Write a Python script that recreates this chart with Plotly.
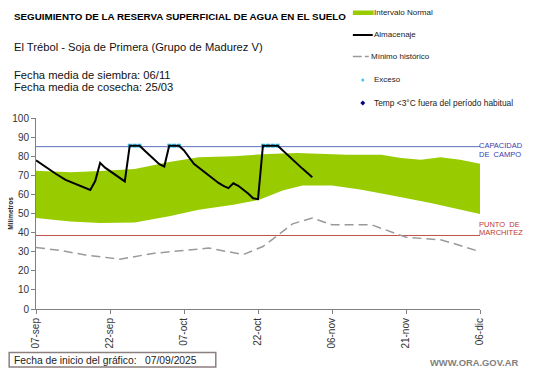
import plotly.graph_objects as go

# ---------------- data ----------------
tick_dates = ["2025-09-07", "2025-09-22", "2025-10-07", "2025-10-22", "2025-11-06", "2025-11-21", "2025-12-06"]
tick_labels = ["07-sep", "22-sep", "07-oct", "22-oct", "06-nov", "21-nov", "06-dic"]

alm_dates = ["2025-09-07", "2025-09-09", "2025-09-11", "2025-09-13", "2025-09-15", "2025-09-17", "2025-09-18",
             "2025-09-19", "2025-09-20", "2025-09-21", "2025-09-23", "2025-09-25", "2025-09-26", "2025-09-28",
             "2025-09-29", "2025-10-01", "2025-10-02", "2025-10-03", "2025-10-04", "2025-10-06", "2025-10-07",
             "2025-10-09", "2025-10-10", "2025-10-11", "2025-10-13", "2025-10-14", "2025-10-15", "2025-10-16",
             "2025-10-17", "2025-10-18", "2025-10-20", "2025-10-21", "2025-10-22", "2025-10-23", "2025-10-26",
             "2025-10-27", "2025-10-29", "2025-10-31", "2025-11-02"]
alm_values = [77.8, 74.2, 70.8, 67.6, 65.4, 63.0, 62.3,
              67.0, 76.5, 74.0, 70.2, 66.8, 85.5, 85.5,
              83.0, 78.0, 75.8, 74.6, 85.5, 85.5, 83.0,
              76.0, 74.0, 72.3, 68.0, 66.0, 64.5, 63.3,
              65.8, 64.5, 60.5, 58.0, 57.5, 85.5, 85.5,
              83.0, 78.5, 73.5, 69.0]

exc_dates = ["2025-09-26", "2025-09-27", "2025-09-28", "2025-10-04", "2025-10-05", "2025-10-06",
             "2025-10-23", "2025-10-24", "2025-10-25", "2025-10-26"]
exc_values = [85.5, 85.5, 85.5, 85.5, 85.5, 85.5, 85.5, 85.5, 85.5, 85.5]

up_dates = ["2025-09-07", "2025-09-14", "2025-09-20", "2025-09-27", "2025-10-04", "2025-10-10", "2025-10-17",
            "2025-10-24", "2025-10-30", "2025-11-02", "2025-11-09", "2025-11-16", "2025-11-20", "2025-11-24",
            "2025-11-28", "2025-12-02", "2025-12-06"]
up_values = [72.4, 71.6, 72.3, 73.3, 77.0, 79.4, 80.0,
             81.2, 81.7, 81.4, 80.8, 80.8, 79.1, 78.2,
             79.4, 78.2, 76.0]

low_dates = ["2025-09-07", "2025-09-14", "2025-09-20", "2025-09-27", "2025-10-04", "2025-10-10", "2025-10-17",
             "2025-10-22", "2025-10-27", "2025-10-31", "2025-11-06", "2025-11-12", "2025-11-19", "2025-11-26",
             "2025-12-06"]
low_values = [47.6, 45.8, 45.0, 45.3, 48.5, 52.0, 54.6,
              57.0, 62.0, 64.6, 64.6, 62.5, 59.0, 55.5,
              49.7]

min_dates = ["2025-09-07", "2025-09-12", "2025-09-17", "2025-09-24", "2025-10-01", "2025-10-06", "2025-10-12",
             "2025-10-19", "2025-10-23", "2025-10-25", "2025-10-29", "2025-11-02", "2025-11-06", "2025-11-14",
             "2025-11-18", "2025-11-21", "2025-11-28", "2025-11-30", "2025-12-06"]
min_values = [32.2, 30.6, 28.3, 26.1, 29.2, 30.6, 31.9,
              28.5, 32.7, 36.6, 44.6, 47.6, 44.1, 44.1,
              40.6, 37.6, 36.2, 34.8, 30.0]

capacidad = 85
marchitez = 38.5

# ---------------- layout helpers (pixel -> paper) ----------------
L, R, T, B = 33, 480, 118, 309
def px(x):
    return (x - L) / (R - L)
def py(y):
    return (B - y) / (B - T)

GREEN = "#99CC00"
CYAN = "#3CC8F0"
FONT = "Liberation Sans, Arial, sans-serif"

fig = go.Figure()

fig.add_trace(go.Scatter(x=low_dates, y=low_values, mode="lines", line=dict(width=0, color=GREEN),
                         showlegend=False, hoverinfo="skip"))
fig.add_trace(go.Scatter(x=up_dates, y=up_values, mode="lines", line=dict(width=0, color=GREEN),
                         fill="tonexty", fillcolor=GREEN, name="Intervalo Normal", showlegend=False))
fig.add_trace(go.Scatter(x=min_dates, y=min_values, mode="lines",
                         line=dict(color="#9A9A9A", width=1.5, dash="9px,5px"),
                         name="Mínimo histórico", showlegend=False))
fig.add_trace(go.Scatter(x=exc_dates, y=exc_values, mode="markers",
                         marker=dict(symbol="square", size=4, color=CYAN),
                         name="Exceso", showlegend=False))
fig.add_trace(go.Scatter(x=alm_dates, y=alm_values, mode="lines",
                         line=dict(color="black", width=2),
                         name="Almacenaje", showlegend=False))

shapes = [
    dict(type="line", xref="paper", yref="y", x0=0, x1=1, y0=capacidad, y1=capacidad,
         line=dict(color="#5A6FC0", width=1), layer="below"),
    dict(type="line", xref="paper", yref="y", x0=0, x1=1, y0=marchitez, y1=marchitez,
         line=dict(color="#C0504D", width=1), layer="below"),
    # legend
    dict(type="rect", xref="paper", yref="paper", x0=px(352), x1=px(373), y0=py(15), y1=py(10.5),
         fillcolor=GREEN, line=dict(width=0)),
    dict(type="line", xref="paper", yref="paper", x0=px(352), x1=px(372), y0=py(35), y1=py(35),
         line=dict(color="black", width=2)),
    dict(type="line", xref="paper", yref="paper", x0=px(352), x1=px(361), y0=py(56.5), y1=py(56.5),
         line=dict(color="#9A9A9A", width=1.5)),
    dict(type="line", xref="paper", yref="paper", x0=px(364), x1=px(368), y0=py(56.5), y1=py(56.5),
         line=dict(color="#9A9A9A", width=1.5)),
    dict(type="circle", xref="paper", yref="paper", x0=px(360.5), x1=px(363.5), y0=py(81.5), y1=py(78.5),
         fillcolor=CYAN, line=dict(width=0)),
    dict(type="path", xref="paper", yref="paper",
         path=f"M {px(359.5)},{py(103)} L {px(362)},{py(100.5)} L {px(364.5)},{py(103)} L {px(362)},{py(105.5)} Z",
         fillcolor="#000080", line=dict(width=0)),
    # footer box
    dict(type="rect", xref="paper", yref="paper", x0=px(6), x1=px(214), y0=py(367), y1=py(352.5),
         line=dict(color="#8C7F7F", width=1.5), fillcolor="rgba(0,0,0,0)"),
]

PAD = 3  # plotly annotation inner text padding

def ann(x, y, text, size, color="black", bold=False, xanchor="left", yanchor="middle", angle=0, family=FONT):
    if bold:
        text = f"<b>{text}</b>"
    if xanchor == "left":
        x -= PAD
    elif xanchor == "right":
        x += PAD
    return dict(xref="paper", yref="paper", x=px(x), y=py(y), text=text, showarrow=False,
                xanchor=xanchor, yanchor=yanchor, textangle=angle,
                font=dict(size=size, color=color, family=family), borderpad=0)

annotations = [
    ann(13, 16, "SEGUIMIENTO DE LA RESERVA SUPERFICIAL DE AGUA EN EL SUELO", 9.8, bold=True),
    ann(13, 47, "El Trébol - Soja de Primera (Grupo de Madurez V)", 11.2, color="#111111"),
    ann(13, 74.5, "Fecha media de siembra: 06/11", 11.2, color="#111111"),
    ann(13, 86.7, "Fecha media de cosecha: 25/03", 11.2, color="#111111"),
    ann(375, 12.5, "Intervalo Normal", 8, color="#222222"),
    ann(375, 34.5, "Almacenaje", 8, color="#222222"),
    ann(372, 56.5, "Mínimo histórico", 8, color="#222222"),
    ann(375, 80, "Exceso", 8, color="#222222"),
    ann(375, 103, "Temp &lt;3°C fuera del período habitual", 8.4, color="#222222"),
    ann(481, 145, "CAPACIDAD", 7.5, color="#3A3AB0"),
    ann(481, 154, "DE  CAMPO", 7.5, color="#3A3AB0"),
    ann(481, 224.3, "PUNTO  DE", 7.5, color="#C0392B"),
    ann(481, 232.7, "MARCHITEZ", 7.5, color="#C0392B"),
    ann(7, 213.5, "Milímetros", 6.5, color="#222222", bold=True, xanchor="center", angle=-90),
    ann(12.5, 360.5, "Fecha de inicio del gráfico:", 10.3, color="#222222"),
    ann(145, 360.5, "07/09/2025", 10.3, color="#222222"),
    ann(516, 362, "WWW.ORA.GOV.AR", 9.4, color="#7F7F7F", bold=True, xanchor="right"),
]

fig.update_layout(
    width=541, height=368,
    margin=dict(l=L, r=541 - R, t=T, b=368 - B, pad=0),
    paper_bgcolor="white", plot_bgcolor="white",
    showlegend=False,
    shapes=shapes, annotations=annotations,
    font=dict(family=FONT, size=10, color="#333333"),
    xaxis=dict(type="date", range=["2025-09-07", "2025-12-06"],
               tickvals=tick_dates, ticktext=tick_labels, tickangle=-90,
               showgrid=False, zeroline=False, showline=True, linecolor="#808080", linewidth=1,
               ticks="outside", ticklen=4, tickcolor="#808080",
               tickfont=dict(size=10, color="#333333", family=FONT)),
    yaxis=dict(range=[0, 100], tickvals=list(range(0, 101, 10)),
               showgrid=False, zeroline=False, showline=True, linecolor="#808080", linewidth=1,
               ticks="outside", ticklen=4, tickcolor="#808080",
               tickfont=dict(size=10, color="#333333", family=FONT)),
)

fig.write_html("out.html", config={"displayModeBar": False},
               post_script="document.body.style.margin='0';document.body.style.padding='0';document.body.style.overflow='hidden';")
